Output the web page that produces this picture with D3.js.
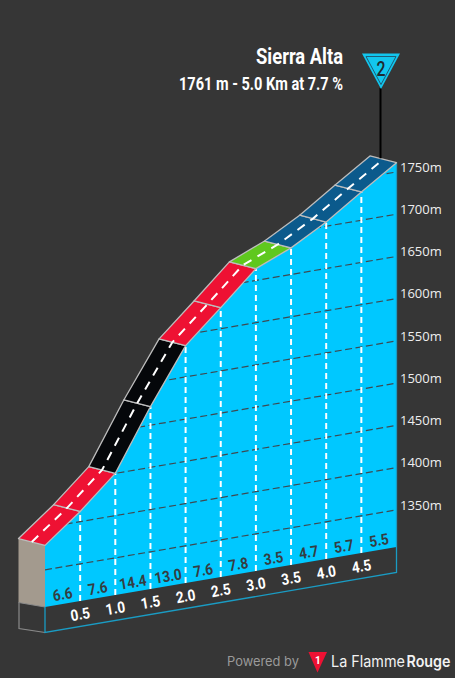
<!DOCTYPE html>
<html><head><meta charset="utf-8">
<script src="https://cdn.jsdelivr.net/npm/d3@7"></script>
<style>html,body{margin:0;padding:0;background:#363636}svg{display:block}</style>
</head><body><svg id="c" width="455" height="678"></svg>
<script>
const kmMarks=[0,0.5,1,1.5,2,2.5,3,3.5,4,4.5,5];
const elevations=[1379,1412,1450,1522,1587,1625,1664,1681.5,1705,1733.5,1761];
const gradients=[6.6,7.6,14.4,13.0,7.6,7.8,3.5,4.7,5.7,5.5];
const segmentClass=["hard","hard","extreme","extreme","hard","hard","easy","medium","medium","medium"];
const gridElevations=[1350,1400,1450,1500,1550,1600,1650,1700,1750];
const climbTitle="Sierra Alta";
const climbSub="1761 m - 5.0 Km at 7.7 %";
const climbCategory="2";

const classColor={hard:"#ee1133",extreme:"#05070a",easy:"#5fc81e",medium:"#0b5a8c"};
const svg=d3.select("#c");
const x=d3.scaleLinear().domain([0,5]).range([45,396.5]);
const yRight=d3.scaleLinear().domain([1306,1750]).range([547,172]);
const skew=-60/351.5;
const back={dx:-26.5,dy:-6.8};
const floorDrop=25.5;
const baseY=px=>547+skew*(px-396.5);
const lift=e=>yRight(e)-547;
const pt=(km,e)=>{const px=x(km);return [px,baseY(px)+lift(e)];};
const front=kmMarks.map((k,i)=>pt(k,elevations[i]));
const poly=a=>a.map(p=>p.join(",")).join(" ");
const line=d3.line();

// text squeezed horizontally to a given width, anchored at its start / middle / end
function fitted(str,px,py,width,font,fill,anchor){
  const t=svg.append("text").attr("text-anchor",anchor).attr("fill",fill).style("font",font).text(str);
  const k=width/t.node().getComputedTextLength();
  t.attr("transform",`translate(${px},${py}) scale(${k},1)`);
  return t;
}

svg.append("polygon").attr("points",poly([[x(0)+back.dx,front[0][1]+back.dy],front[0],[x(0),baseY(x(0))],[x(0)+back.dx,baseY(x(0))-4.5]])).attr("fill","#a39a8e");
svg.append("path").attr("d",line([[x(0)+back.dx+.5,baseY(x(0))-4.5],[x(0)+back.dx+.5,baseY(x(0))+floorDrop-4],[x(0),baseY(x(0))+floorDrop]])).attr("fill","none").attr("stroke","#8a8a8a").attr("stroke-width",1.2);
svg.append("path").attr("d",line([[x(0)+back.dx,baseY(x(0))-4.5],[x(0),baseY(x(0))]])).attr("fill","none").attr("stroke","#8a8a8a").attr("stroke-width",1);

const facePts=[...front,[x(5),baseY(x(5))],[x(0),baseY(x(0))]];
svg.append("polygon").attr("points",poly(facePts)).attr("fill","#00c8ff");
svg.append("clipPath").attr("id","face").append("polygon").attr("points",poly(facePts));

svg.append("path").attr("d",line([[x(0),baseY(x(0))],[x(0),baseY(x(0))+floorDrop],[x(5),baseY(x(5))+floorDrop],[x(5),baseY(x(5))]])).attr("fill","none").attr("stroke","#1a9cc4").attr("stroke-width",1.3);
svg.append("path").attr("d",line([[x(5),front[10][1]],[x(5),baseY(x(5))]])).attr("stroke","#1a9cc4").attr("stroke-width",1.3);

const g=svg.append("g").attr("clip-path","url(#face)");
g.selectAll("path.grid").data(gridElevations).join("path").attr("class","grid")
 .attr("d",e=>line([pt(0,e),pt(5,e)])).attr("stroke","#3e4a52").attr("stroke-width",1.2).attr("stroke-dasharray","7,3.5").attr("fill","none");
g.selectAll("path.km").data(kmMarks.slice(1,10)).join("path").attr("class","km")
 .attr("d",k=>{const i=kmMarks.indexOf(k);return line([[x(k),baseY(x(k))],front[i]]);})
 .attr("stroke","#fff").attr("stroke-width",2).attr("stroke-dasharray","6,4").attr("fill","none");

const seg=svg.append("g");
gradients.forEach((gr,i)=>{
  const a=front[i],b=front[i+1];
  seg.append("polygon").attr("points",poly([a,b,[b[0]+back.dx,b[1]+back.dy],[a[0]+back.dx,a[1]+back.dy]]))
    .attr("fill",classColor[segmentClass[i]]).attr("stroke","#bdbdbd").attr("stroke-width",1.3).attr("stroke-linejoin","round");
});
svg.append("path").attr("d",line(front.map(p=>[p[0]+back.dx/2,p[1]+back.dy/2]))).attr("fill","none")
  .attr("stroke","#fff").attr("stroke-width",2).attr("stroke-dasharray","9,7");

const axisG=svg.append("g").attr("transform",`translate(${x(5)},-5)`)
 .call(d3.axisRight(yRight).tickValues(gridElevations.slice()).tickSize(0).tickPadding(3.5).tickFormat(d=>d+"m"));
axisG.select(".domain").remove();
axisG.selectAll("text").attr("fill","#eeeeee").style("font","13px 'Open Sans',sans-serif");

const angle=Math.atan(skew)*180/Math.PI;
const labelFont="700 15.5px 'Roboto',sans-serif";
svg.selectAll("text.gr").data(gradients).join("text").attr("class","gr")
 .attr("transform",(d,i)=>{const m=x(kmMarks[i]+0.25);return `translate(${m},${baseY(m)-10}) rotate(${angle}) scale(.88,1)`;})
 .attr("text-anchor","middle").attr("dy","0.36em").attr("fill","#353d42").style("font",labelFont).text(d=>d.toFixed(1));
svg.selectAll("text.kmL").data(kmMarks.slice(1,10)).join("text").attr("class","kmL")
 .attr("transform",k=>`translate(${x(k)},${baseY(x(k))+13}) rotate(${angle}) scale(.88,1)`)
 .attr("text-anchor","middle").attr("dy","0.36em").attr("fill","#ffffff").style("font",labelFont).text(k=>k.toFixed(1));

fitted(climbTitle,343,64,87,"700 22px 'Roboto',sans-serif","#fff","end");
fitted(climbSub,343,90,164,"700 18px 'Roboto',sans-serif","#fff","end");

const topBack=[x(5)+back.dx/2+.3,front[10][1]+back.dy/2-1];
svg.append("line").attr("x1",380.5).attr("x2",380.5).attr("y1",88).attr("y2",topBack[1]).attr("stroke","#000").attr("stroke-width",2);
svg.append("polygon").attr("points","362,53.5 400,53.5 381,89").attr("fill","#12c6ee");
svg.append("polygon").attr("points","366,56.5 396,56.5 381,84.5").attr("fill","none").attr("stroke","#1d5e78").attr("stroke-width",1);
fitted(climbCategory,381,76,9,"500 21px 'Roboto',sans-serif","#1f2a30","middle");

fitted("Powered by",227,666,72,"13px 'Inter',sans-serif","#9a9a9a","start");
svg.append("polygon").attr("points","308.5,652 327,652 317.5,672.5").attr("fill","#ee1133");
svg.append("text").attr("x",317.8).attr("y",664).attr("text-anchor","middle").attr("fill","#fff").style("font","700 10px 'Roboto',sans-serif").text("1");
fitted("La Flamme",331,667,74,"15.5px 'Inter',sans-serif","#f2f2f2","start");
fitted("Rouge",406.5,667,44,"600 15.5px 'Inter',sans-serif","#f2f2f2","start");
</script></body></html>
